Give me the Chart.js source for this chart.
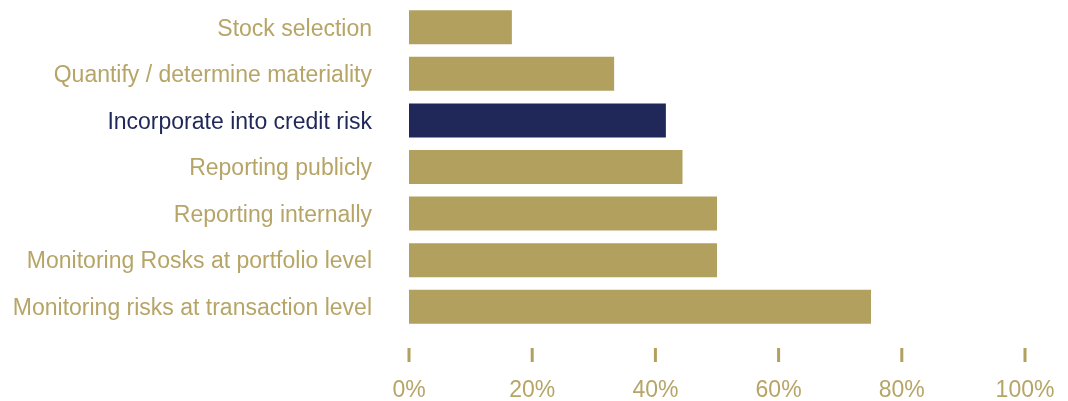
<!DOCTYPE html>
<html>
<head>
<meta charset="utf-8">
<script src="https://cdn.jsdelivr.net/npm/chart.js@4/dist/chart.umd.min.js"></script>
<style>
  html, body { margin: 0; padding: 0; background: #fff; }
  .chart-wrapper { position: relative; width: 1068px; height: 401px; }
</style>
</head>
<body>
<div class="chart-wrapper">
  <canvas id="chart"></canvas>
</div>
<script>
const categories = [
  "Stock selection",
  "Quantify / determine materiality",
  "Incorporate into credit risk",
  "Reporting publicly",
  "Reporting internally",
  "Monitoring Rosks at portfolio level",
  "Monitoring risks at transaction level"
];
const shares = [16.7, 33.3, 41.7, 44.4, 50, 50, 75];
const highlighted = "Incorporate into credit risk";
const xTicks = [0, 20, 40, 60, 80, 100];

const gold = "#b2a05e";
const goldText = "#b6a567";
const navy = "#1f2858";
const labelFont = { family: "'Liberation Sans', Arial, sans-serif", size: 23 };

// short thick tick marks floating between the bars and the % labels
const tickMarks = {
  id: "tickMarks",
  afterDraw(chart) {
    const ctx = chart.ctx;
    const x = chart.scales.x;
    const y0 = chart.chartArea.bottom + 18;
    ctx.save();
    ctx.fillStyle = gold;
    x.ticks.forEach((t, i) => {
      const px = x.getPixelForTick(i);
      ctx.fillRect(px - 1.5, y0, 3, 14);
    });
    ctx.restore();
  }
};

const ctx = document.getElementById("chart").getContext("2d");
const myChart = new Chart(ctx, {
  type: "bar",
  data: {
    labels: categories,
    datasets: [
      {
        data: shares,
        backgroundColor: categories.map(c => c === highlighted ? navy : gold),
        borderWidth: 0,
        categoryPercentage: 1,
        barPercentage: 0.73,
      },
    ],
  },
  plugins: [tickMarks],
  options: {
    indexAxis: "y",
    responsive: true,
    maintainAspectRatio: false,
    animation: false,
    layout: { padding: { top: 4, right: 43, left: 0, bottom: 0 } },
    plugins: {
      legend: { display: false },
      tooltip: { enabled: false },
    },
    scales: {
      x: {
        min: 0,
        max: 100,
        afterBuildTicks: (scale) => { scale.ticks = xTicks.map(v => ({ value: v })); },
        afterFit: (scale) => {
          scale.height = 71;
          scale.paddingLeft = 0;
          scale.paddingRight = 0;
        },
        border: { display: false },
        grid: { display: false, drawTicks: false },
        ticks: {
          padding: 47,
          color: goldText,
          font: labelFont,
          maxRotation: 0,
          callback: (v) => v + "%",
        },
      },
      y: {
        border: { display: false },
        grid: { display: false, drawTicks: false },
        afterFit: (scale) => {
          scale.width = 409;
          scale.paddingTop = 0;
          scale.paddingBottom = 0;
        },
        ticks: {
          padding: 37,
          labelOffset: 2,
          font: labelFont,
          color: (c) => categories[c.index] === highlighted ? navy : goldText,
        },
      },
    },
  },
});
</script>
</body>
</html>
